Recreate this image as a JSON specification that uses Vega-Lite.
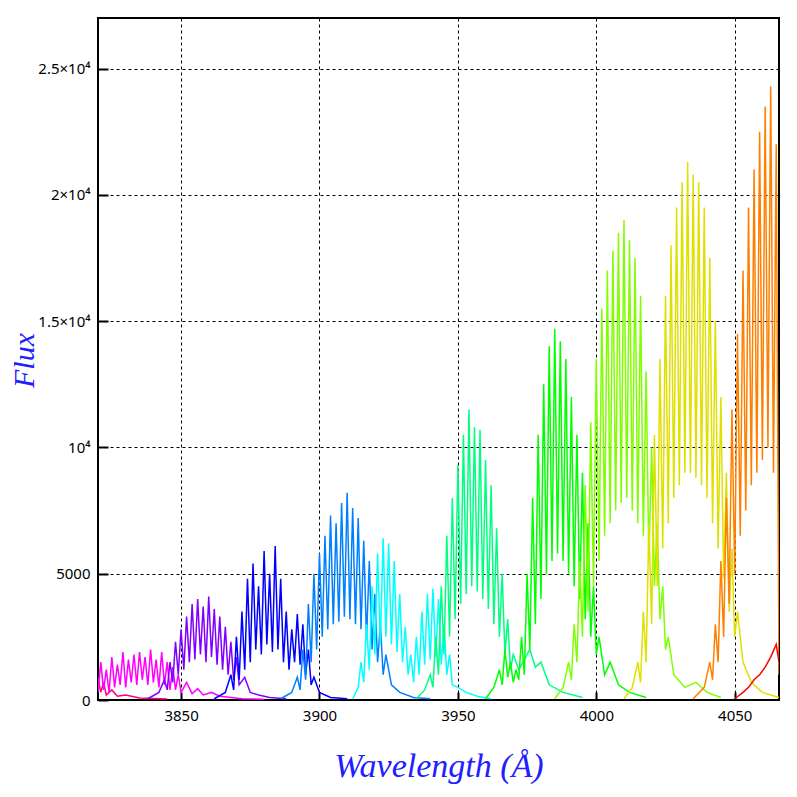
{
  "$schema": "https://vega.github.io/schema/vega-lite/v6.json",
  "autosize": "none",
  "width": 681,
  "height": 682,
  "padding": {"left": 98, "top": 18, "right": 18, "bottom": 97},
  "background": "white",
  "config": {"view": {"stroke": "black", "strokeWidth": 2}},
  "data": {"values": [
    {"s":"p","w":3820,"f":900},{"s":"p","w":3821,"f":300},{"s":"p","w":3822,"f":700},{"s":"p","w":3823,"f":200},{"s":"p","w":3825,"f":400},{"s":"p","w":3827,"f":150},{"s":"p","w":3830,"f":200},{"s":"p","w":3835,"f":80},{"s":"p","w":3845,"f":40},
    {"s":"m","w":3820,"f":300},{"s":"m","w":3821,"f":1500},{"s":"m","w":3822,"f":400},{"s":"m","w":3823,"f":1200},{"s":"m","w":3824,"f":300},{"s":"m","w":3825,"f":1700},{"s":"m","w":3826,"f":500},{"s":"m","w":3827,"f":1400},{"s":"m","w":3828,"f":600},{"s":"m","w":3829,"f":1900},{"s":"m","w":3830,"f":500},{"s":"m","w":3831,"f":1600},{"s":"m","w":3832,"f":700},{"s":"m","w":3833,"f":1800},{"s":"m","w":3834,"f":600},{"s":"m","w":3835,"f":1900},{"s":"m","w":3836,"f":800},{"s":"m","w":3837,"f":1700},{"s":"m","w":3838,"f":600},{"s":"m","w":3839,"f":2000},{"s":"m","w":3840,"f":700},{"s":"m","w":3841,"f":1600},{"s":"m","w":3842,"f":500},{"s":"m","w":3843,"f":1900},{"s":"m","w":3844,"f":600},{"s":"m","w":3845,"f":1500},{"s":"m","w":3846,"f":400},{"s":"m","w":3847,"f":1300},{"s":"m","w":3848,"f":400},{"s":"m","w":3849,"f":1000},{"s":"m","w":3850,"f":300},{"s":"m","w":3852,"f":700},{"s":"m","w":3854,"f":250},{"s":"m","w":3856,"f":450},{"s":"m","w":3858,"f":200},{"s":"m","w":3861,"f":300},{"s":"m","w":3864,"f":150},{"s":"m","w":3868,"f":100},{"s":"m","w":3872,"f":50},{"s":"m","w":3880,"f":30},
    {"s":"v","w":3838,"f":50},{"s":"v","w":3842,"f":300},{"s":"v","w":3844,"f":800},{"s":"v","w":3845,"f":400},{"s":"v","w":3846,"f":1500},{"s":"v","w":3847,"f":700},{"s":"v","w":3848,"f":2300},{"s":"v","w":3849,"f":1000},{"s":"v","w":3850,"f":2800},{"s":"v","w":3851,"f":1200},{"s":"v","w":3852,"f":3300},{"s":"v","w":3853,"f":1500},{"s":"v","w":3854,"f":3800},{"s":"v","w":3855,"f":1600},{"s":"v","w":3856,"f":4000},{"s":"v","w":3857,"f":1800},{"s":"v","w":3858,"f":3700},{"s":"v","w":3859,"f":1500},{"s":"v","w":3860,"f":4100},{"s":"v","w":3861,"f":1700},{"s":"v","w":3862,"f":3600},{"s":"v","w":3863,"f":1400},{"s":"v","w":3864,"f":3300},{"s":"v","w":3865,"f":1200},{"s":"v","w":3866,"f":2900},{"s":"v","w":3867,"f":1000},{"s":"v","w":3868,"f":2300},{"s":"v","w":3869,"f":800},{"s":"v","w":3870,"f":1700},{"s":"v","w":3871,"f":600},{"s":"v","w":3873,"f":900},{"s":"v","w":3875,"f":300},{"s":"v","w":3878,"f":200},{"s":"v","w":3882,"f":100},{"s":"v","w":3888,"f":50},
    {"s":"b","w":3862,"f":50},{"s":"b","w":3866,"f":300},{"s":"b","w":3868,"f":1000},{"s":"b","w":3869,"f":400},{"s":"b","w":3870,"f":2500},{"s":"b","w":3871,"f":800},{"s":"b","w":3872,"f":3500},{"s":"b","w":3873,"f":1200},{"s":"b","w":3874,"f":4800},{"s":"b","w":3875,"f":1500},{"s":"b","w":3876,"f":5400},{"s":"b","w":3877,"f":2000},{"s":"b","w":3878,"f":4500},{"s":"b","w":3879,"f":1800},{"s":"b","w":3880,"f":5900},{"s":"b","w":3881,"f":2200},{"s":"b","w":3882,"f":5000},{"s":"b","w":3883,"f":1900},{"s":"b","w":3884,"f":6100},{"s":"b","w":3885,"f":2000},{"s":"b","w":3886,"f":4800},{"s":"b","w":3887,"f":1500},{"s":"b","w":3888,"f":3500},{"s":"b","w":3889,"f":1200},{"s":"b","w":3890,"f":2800},{"s":"b","w":3891,"f":1500},{"s":"b","w":3892,"f":3400},{"s":"b","w":3893,"f":1400},{"s":"b","w":3894,"f":3000},{"s":"b","w":3895,"f":1000},{"s":"b","w":3896,"f":2000},{"s":"b","w":3897,"f":600},{"s":"b","w":3898,"f":900},{"s":"b","w":3900,"f":300},{"s":"b","w":3904,"f":100},{"s":"b","w":3910,"f":50},
    {"s":"a","w":3886,"f":50},{"s":"a","w":3890,"f":300},{"s":"a","w":3892,"f":900},{"s":"a","w":3893,"f":400},{"s":"a","w":3894,"f":2000},{"s":"a","w":3895,"f":800},{"s":"a","w":3896,"f":3800},{"s":"a","w":3897,"f":1500},{"s":"a","w":3898,"f":5000},{"s":"a","w":3899,"f":2000},{"s":"a","w":3900,"f":5800},{"s":"a","w":3901,"f":2500},{"s":"a","w":3902,"f":6500},{"s":"a","w":3903,"f":2800},{"s":"a","w":3904,"f":7300},{"s":"a","w":3905,"f":3000},{"s":"a","w":3906,"f":7000},{"s":"a","w":3907,"f":3100},{"s":"a","w":3908,"f":7800},{"s":"a","w":3909,"f":3300},{"s":"a","w":3910,"f":8200},{"s":"a","w":3911,"f":3200},{"s":"a","w":3912,"f":7600},{"s":"a","w":3913,"f":3000},{"s":"a","w":3914,"f":7200},{"s":"a","w":3915,"f":2800},{"s":"a","w":3916,"f":6300},{"s":"a","w":3917,"f":2400},{"s":"a","w":3918,"f":5500},{"s":"a","w":3919,"f":2000},{"s":"a","w":3920,"f":4200},{"s":"a","w":3921,"f":1500},{"s":"a","w":3922,"f":3000},{"s":"a","w":3923,"f":1000},{"s":"a","w":3924,"f":1800},{"s":"a","w":3926,"f":600},{"s":"a","w":3929,"f":300},{"s":"a","w":3934,"f":100},{"s":"a","w":3940,"f":50},
    {"s":"c","w":3912,"f":50},{"s":"c","w":3914,"f":500},{"s":"c","w":3915,"f":1500},{"s":"c","w":3916,"f":700},{"s":"c","w":3917,"f":3000},{"s":"c","w":3918,"f":1200},{"s":"c","w":3919,"f":4500},{"s":"c","w":3920,"f":1800},{"s":"c","w":3921,"f":5800},{"s":"c","w":3922,"f":2200},{"s":"c","w":3923,"f":6400},{"s":"c","w":3924,"f":2500},{"s":"c","w":3925,"f":6200},{"s":"c","w":3926,"f":2200},{"s":"c","w":3927,"f":5500},{"s":"c","w":3928,"f":1900},{"s":"c","w":3929,"f":4200},{"s":"c","w":3930,"f":1500},{"s":"c","w":3931,"f":2900},{"s":"c","w":3932,"f":1000},{"s":"c","w":3933,"f":1800},{"s":"c","w":3934,"f":700},{"s":"c","w":3935,"f":2500},{"s":"c","w":3936,"f":1000},{"s":"c","w":3937,"f":3500},{"s":"c","w":3938,"f":1400},{"s":"c","w":3939,"f":4200},{"s":"c","w":3940,"f":1600},{"s":"c","w":3941,"f":4400},{"s":"c","w":3942,"f":1700},{"s":"c","w":3943,"f":4000},{"s":"c","w":3944,"f":1400},{"s":"c","w":3945,"f":3000},{"s":"c","w":3946,"f":1000},{"s":"c","w":3947,"f":1800},{"s":"c","w":3948,"f":600},{"s":"c","w":3950,"f":500},{"s":"c","w":3953,"f":300},{"s":"c","w":3957,"f":150},{"s":"c","w":3962,"f":50},
    {"s":"s","w":3935,"f":50},{"s":"s","w":3938,"f":400},{"s":"s","w":3940,"f":1000},{"s":"s","w":3941,"f":500},{"s":"s","w":3942,"f":2500},{"s":"s","w":3943,"f":1000},{"s":"s","w":3944,"f":4500},{"s":"s","w":3945,"f":1800},{"s":"s","w":3946,"f":6500},{"s":"s","w":3947,"f":2500},{"s":"s","w":3948,"f":8000},{"s":"s","w":3949,"f":3200},{"s":"s","w":3950,"f":9300},{"s":"s","w":3951,"f":3800},{"s":"s","w":3952,"f":10500},{"s":"s","w":3953,"f":4200},{"s":"s","w":3954,"f":11500},{"s":"s","w":3955,"f":4500},{"s":"s","w":3956,"f":10800},{"s":"s","w":3957,"f":4300},{"s":"s","w":3958,"f":10700},{"s":"s","w":3959,"f":4000},{"s":"s","w":3960,"f":9500},{"s":"s","w":3961,"f":3600},{"s":"s","w":3962,"f":8500},{"s":"s","w":3963,"f":3000},{"s":"s","w":3964,"f":6800},{"s":"s","w":3965,"f":2500},{"s":"s","w":3966,"f":5000},{"s":"s","w":3967,"f":1800},{"s":"s","w":3968,"f":3200},{"s":"s","w":3969,"f":1200},{"s":"s","w":3970,"f":1800},{"s":"s","w":3972,"f":1200},{"s":"s","w":3974,"f":1600},{"s":"s","w":3976,"f":2000},{"s":"s","w":3978,"f":1300},{"s":"s","w":3980,"f":1500},{"s":"s","w":3983,"f":600},{"s":"s","w":3988,"f":300},{"s":"s","w":3995,"f":100},
    {"s":"g","w":3960,"f":50},{"s":"g","w":3963,"f":500},{"s":"g","w":3965,"f":1200},{"s":"g","w":3966,"f":600},{"s":"g","w":3967,"f":2000},{"s":"g","w":3968,"f":900},{"s":"g","w":3969,"f":1500},{"s":"g","w":3970,"f":700},{"s":"g","w":3971,"f":1200},{"s":"g","w":3972,"f":800},{"s":"g","w":3973,"f":2500},{"s":"g","w":3974,"f":1000},{"s":"g","w":3975,"f":5000},{"s":"g","w":3976,"f":2000},{"s":"g","w":3977,"f":8000},{"s":"g","w":3978,"f":3000},{"s":"g","w":3979,"f":10500},{"s":"g","w":3980,"f":4000},{"s":"g","w":3981,"f":12500},{"s":"g","w":3982,"f":5000},{"s":"g","w":3983,"f":14000},{"s":"g","w":3984,"f":5500},{"s":"g","w":3985,"f":14700},{"s":"g","w":3986,"f":5800},{"s":"g","w":3987,"f":14200},{"s":"g","w":3988,"f":5500},{"s":"g","w":3989,"f":13500},{"s":"g","w":3990,"f":5000},{"s":"g","w":3991,"f":12000},{"s":"g","w":3992,"f":4500},{"s":"g","w":3993,"f":10500},{"s":"g","w":3994,"f":4000},{"s":"g","w":3995,"f":9000},{"s":"g","w":3996,"f":3200},{"s":"g","w":3997,"f":7000},{"s":"g","w":3998,"f":2500},{"s":"g","w":3999,"f":4500},{"s":"g","w":4000,"f":1800},{"s":"g","w":4001,"f":2500},{"s":"g","w":4003,"f":1000},{"s":"g","w":4005,"f":1500},{"s":"g","w":4008,"f":600},{"s":"g","w":4012,"f":300},{"s":"g","w":4018,"f":100},
    {"s":"h","w":3985,"f":50},{"s":"h","w":3988,"f":500},{"s":"h","w":3990,"f":1500},{"s":"h","w":3991,"f":800},{"s":"h","w":3992,"f":3000},{"s":"h","w":3993,"f":1500},{"s":"h","w":3994,"f":5500},{"s":"h","w":3995,"f":2500},{"s":"h","w":3996,"f":8500},{"s":"h","w":3997,"f":3500},{"s":"h","w":3998,"f":11000},{"s":"h","w":3999,"f":4500},{"s":"h","w":4000,"f":13500},{"s":"h","w":4001,"f":5500},{"s":"h","w":4002,"f":15500},{"s":"h","w":4003,"f":6500},{"s":"h","w":4004,"f":17000},{"s":"h","w":4005,"f":7000},{"s":"h","w":4006,"f":17800},{"s":"h","w":4007,"f":7500},{"s":"h","w":4008,"f":18500},{"s":"h","w":4009,"f":7800},{"s":"h","w":4010,"f":19000},{"s":"h","w":4011,"f":8000},{"s":"h","w":4012,"f":18200},{"s":"h","w":4013,"f":7500},{"s":"h","w":4014,"f":17500},{"s":"h","w":4015,"f":7000},{"s":"h","w":4016,"f":16000},{"s":"h","w":4017,"f":6500},{"s":"h","w":4018,"f":13000},{"s":"h","w":4019,"f":5500},{"s":"h","w":4020,"f":10000},{"s":"h","w":4021,"f":4500},{"s":"h","w":4022,"f":7000},{"s":"h","w":4023,"f":3200},{"s":"h","w":4024,"f":4500},{"s":"h","w":4025,"f":2000},{"s":"h","w":4026,"f":2500},{"s":"h","w":4028,"f":1000},{"s":"h","w":4032,"f":500},{"s":"h","w":4036,"f":700},{"s":"h","w":4040,"f":300},{"s":"h","w":4045,"f":100},
    {"s":"y","w":4010,"f":50},{"s":"y","w":4013,"f":500},{"s":"y","w":4015,"f":1500},{"s":"y","w":4016,"f":700},{"s":"y","w":4017,"f":3500},{"s":"y","w":4018,"f":1500},{"s":"y","w":4019,"f":7000},{"s":"y","w":4020,"f":3000},{"s":"y","w":4021,"f":10500},{"s":"y","w":4022,"f":4500},{"s":"y","w":4023,"f":13500},{"s":"y","w":4024,"f":6000},{"s":"y","w":4025,"f":16000},{"s":"y","w":4026,"f":7000},{"s":"y","w":4027,"f":18000},{"s":"y","w":4028,"f":8000},{"s":"y","w":4029,"f":19500},{"s":"y","w":4030,"f":8500},{"s":"y","w":4031,"f":20500},{"s":"y","w":4032,"f":9000},{"s":"y","w":4033,"f":21300},{"s":"y","w":4034,"f":9000},{"s":"y","w":4035,"f":20800},{"s":"y","w":4036,"f":8800},{"s":"y","w":4037,"f":20500},{"s":"y","w":4038,"f":8500},{"s":"y","w":4039,"f":19500},{"s":"y","w":4040,"f":8000},{"s":"y","w":4041,"f":17500},{"s":"y","w":4042,"f":7000},{"s":"y","w":4043,"f":15000},{"s":"y","w":4044,"f":6000},{"s":"y","w":4045,"f":12000},{"s":"y","w":4046,"f":4800},{"s":"y","w":4047,"f":9000},{"s":"y","w":4048,"f":3500},{"s":"y","w":4049,"f":6000},{"s":"y","w":4050,"f":2500},{"s":"y","w":4051,"f":3500},{"s":"y","w":4053,"f":1500},{"s":"y","w":4056,"f":700},{"s":"y","w":4060,"f":300},{"s":"y","w":4066,"f":100},
    {"s":"o","w":4035,"f":50},{"s":"o","w":4039,"f":500},{"s":"o","w":4041,"f":1500},{"s":"o","w":4042,"f":800},{"s":"o","w":4043,"f":3000},{"s":"o","w":4044,"f":1500},{"s":"o","w":4045,"f":5500},{"s":"o","w":4046,"f":2500},{"s":"o","w":4047,"f":8000},{"s":"o","w":4048,"f":3800},{"s":"o","w":4049,"f":11500},{"s":"o","w":4050,"f":5000},{"s":"o","w":4051,"f":14500},{"s":"o","w":4052,"f":6500},{"s":"o","w":4053,"f":17000},{"s":"o","w":4054,"f":7500},{"s":"o","w":4055,"f":19500},{"s":"o","w":4056,"f":8500},{"s":"o","w":4057,"f":21000},{"s":"o","w":4058,"f":9000},{"s":"o","w":4059,"f":22500},{"s":"o","w":4060,"f":9500},{"s":"o","w":4061,"f":23500},{"s":"o","w":4062,"f":10000},{"s":"o","w":4063,"f":24300},{"s":"o","w":4064,"f":9000},{"s":"o","w":4065,"f":22000},{"s":"o","w":4066,"f":1000},
    {"s":"r","w":4050,"f":50},{"s":"r","w":4053,"f":300},{"s":"r","w":4055,"f":500},{"s":"r","w":4057,"f":800},{"s":"r","w":4059,"f":1000},{"s":"r","w":4061,"f":1300},{"s":"r","w":4063,"f":1700},{"s":"r","w":4065,"f":2200},{"s":"r","w":4066,"f":1500}
  ]},
  "mark": {"type": "line", "strokeWidth": 1.5, "clip": true},
  "encoding": {
    "x": {
      "field": "w", "type": "quantitative",
      "scale": {"domain": [3820, 4066], "nice": false, "zero": false},
      "axis": {
        "values": [3850, 3900, 3950, 4000, 4050],
        "format": "d",
        "title": "Wavelength (Å)",
        "titleFont": "Liberation Serif", "titleFontStyle": "italic", "titleFontWeight": "normal",
        "titleFontSize": 34, "titleColor": "#2020ff", "titlePadding": 26,
        "labelFont": "Noto Sans", "labelFontSize": 15, "labelColor": "black", "labelPadding": 16,
        "grid": true, "gridColor": "black", "gridDash": [3, 3], "gridOpacity": 1,
        "domain": false, "tickColor": "black", "tickSize": -8, "tickWidth": 2
      }
    },
    "y": {
      "field": "f", "type": "quantitative",
      "scale": {"domain": [0, 27000], "nice": false},
      "axis": {
        "values": [0, 5000, 10000, 15000, 20000, 25000],
        "labelExpr": "datum.value == 0 ? '0' : datum.value == 5000 ? '5000' : datum.value == 10000 ? '10⁴' : (datum.value / 10000) + '×10⁴'",
        "title": "Flux",
        "titleFont": "Liberation Serif", "titleFontStyle": "italic", "titleFontWeight": "normal",
        "titleFontSize": 30, "titleColor": "#2020ff",
        "titleX": -74, "titleY": 342, "titleAngle": -90, "titleAlign": "center", "titleBaseline": "middle",
        "labelFont": "Noto Sans", "labelFontSize": 15, "labelColor": "black", "labelPadding": 18,
        "grid": true, "gridColor": "black", "gridDash": [3, 3], "gridOpacity": 1,
        "domain": false, "tickColor": "black", "tickSize": -10, "tickWidth": 2
      }
    },
    "color": {
      "field": "s", "type": "nominal", "legend": null,
      "scale": {
        "domain": ["p", "m", "v", "b", "a", "c", "s", "g", "h", "y", "o", "r"],
        "range": ["#ff0080", "#ff00ff", "#8000ff", "#0000ff", "#0080ff", "#00ffff", "#00ff80", "#00ff00", "#80ff00", "#e0e000", "#ff8000", "#ff0000"]
      }
    },
    "order": {"field": "w", "type": "quantitative"}
  }
}
